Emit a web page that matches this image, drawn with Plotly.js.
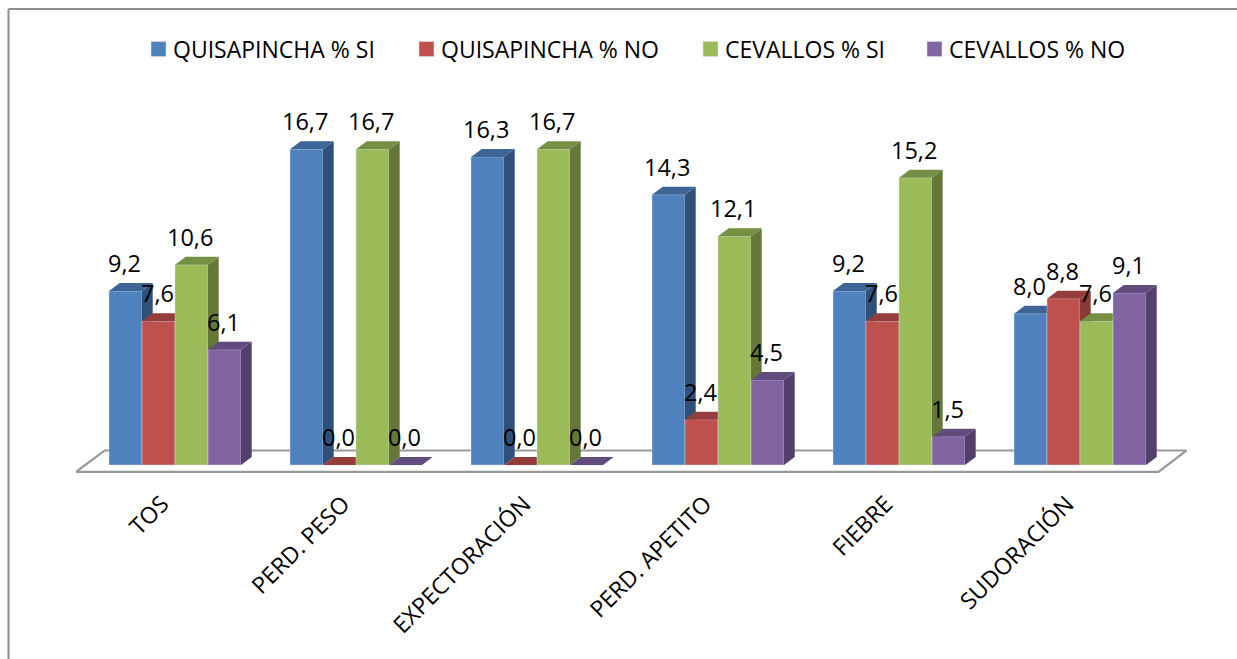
<!DOCTYPE html>
<html>
<head>
<meta charset="utf-8">
<script src="https://cdn.plot.ly/plotly-3.0.1.min.js"></script>
<style>html,body{margin:0;padding:0;background:#fff;overflow:hidden}</style>
</head>
<body>
<div id="chart" style="width:1237px;height:659px"></div>
<script>
const categories = ['TOS','PERD. PESO','EXPECTORACIÓN','PERD. APETITO','FIEBRE','SUDORACIÓN'];
const quisapinchaSi = [9.2,16.7,16.3,14.3,9.2,8.0];
const quisapinchaNo = [7.6,0.0,0.0,2.4,7.6,8.8];
const cevallosSi = [10.6,16.7,16.7,12.1,15.2,7.6];
const cevallosNo = [6.1,0.0,0.0,4.5,1.5,9.1];
const seriesNames = ['QUISAPINCHA % SI','QUISAPINCHA % NO','CEVALLOS % SI','CEVALLOS % NO'];
const seriesValues = [quisapinchaSi,quisapinchaNo,cevallosSi,cevallosNo];
const frontColors = ['#4F81BD','#C0504D','#9BBB59','#8064A2'];
const sideColors = ['#2F5078','#8A3836','#66773A','#533F6C'];
const topColors = ['#3D6595','#953D3B','#758F44','#624C7D'];

const W = 1237, H = 659;
const plot = {l:76, r:1187, t:90, b:480};
const zeroX = 175, pxPerCat = 181, zeroY = 465, pxPerVal = 18.9;
const xRange = [(plot.l-zeroX)/pxPerCat, (plot.r-zeroX)/pxPerCat];
const yRange = [(zeroY-plot.b)/pxPerVal, (zeroY-plot.t)/pxPerVal];
const barW = 33/pxPerCat, depthX = 10.7/pxPerCat, depthY = 8/pxPerVal;
const indexes = categories.map((_,i)=>i);

const traces = [];
// floor of the 3D scene
const fx = v => (v-zeroX)/pxPerCat, fy = v => (zeroY-v)/pxPerVal;
traces.push({type:'scatter',mode:'lines',xaxis:'x',yaxis:'y',showlegend:false,hoverinfo:'skip',cliponaxis:false,
  x:[fx(76),fx(104.5),fx(1186.5),fx(1158.5),fx(76)],
  y:[fy(471.8),fy(450.5),fy(450.5),fy(471.8),fy(471.8)],
  line:{color:'#999999',width:2.2},fill:'toself',fillcolor:'#ffffff'});

seriesValues.forEach((vals,s)=>{
  const ax = 'x'+(s+2), ay = 'y'+(s+2);
  const off = -2*barW + s*barW;
  traces.push({type:'bar',name:seriesNames[s],x:indexes,y:vals,width:barW,offset:off,xaxis:ax,yaxis:ay,
    legend:s===0?'legend':'legend'+(s+1),
    marker:{color:frontColors[s],line:{color:'rgba(215,228,240,0.55)',width:0.8}},
    hovertemplate:'%{y}<extra>'+seriesNames[s]+'</extra>'});
  const sx=[],sy=[],tx=[],ty=[];
  vals.forEach((v,i)=>{
    const xl=i+off, xr=xl+barW;
    sx.push(xr,xr+depthX,xr+depthX,xr,null); sy.push(0,depthY,v+depthY,v,null);
    tx.push(xl,xl+depthX,xr+depthX,xr,null); ty.push(v,v+depthY,v+depthY,v,null);
  });
  traces.push({type:'scatter',mode:'lines',xaxis:ax,yaxis:ay,x:sx,y:sy,fill:'toself',fillcolor:sideColors[s],
    line:{width:0,color:sideColors[s]},showlegend:false,hoverinfo:'skip'});
  traces.push({type:'scatter',mode:'lines',xaxis:ax,yaxis:ay,x:tx,y:ty,fill:'toself',fillcolor:topColors[s],
    line:{width:0,color:topColors[s]},showlegend:false,hoverinfo:'skip'});
});

const annotations = [];
seriesValues.forEach((vals,s)=>vals.forEach((v,i)=>{
  annotations.push({x:i-2*barW+(s+0.5)*barW,y:v,xref:'x',yref:'y',xshift:-1.5,yshift:28,showarrow:false,
    text:v.toFixed(1).replace('.',','),xanchor:'center',yanchor:'middle',
    font:{family:'Open Sans, sans-serif',size:23.5,color:'#000'}});
}));

const legendText = [173,441,725,949].map(v=>v-40);
const legendOf = i => ({xref:'container',yref:'container',x:legendText[i]/W,y:1-49/H,xanchor:'left',yanchor:'middle',
  orientation:'h',bgcolor:'rgba(0,0,0,0)',borderwidth:0,font:{family:'Open Sans, sans-serif',size:23,color:'#000'}});

const layout = {
  width:W,height:H,paper_bgcolor:'#fff',plot_bgcolor:'rgba(0,0,0,0)',showlegend:true,barmode:'overlay',
  margin:{l:plot.l,r:W-plot.r,t:plot.t,b:H-plot.b,pad:0,autoexpand:false},
  xaxis:{range:xRange,tickmode:'array',tickvals:indexes,ticktext:categories,tickangle:-45,ticks:'',showline:false,
    showgrid:false,zeroline:false,fixedrange:true,ticklabelstandoff:5,ticklabelshift:-13,
    tickfont:{family:'Open Sans, sans-serif',size:23,color:'#000'}},
  yaxis:{range:yRange,visible:false,fixedrange:true},
  annotations:annotations,
  legend:legendOf(0),legend2:legendOf(1),legend3:legendOf(2),legend4:legendOf(3),
  shapes:[
    {type:'line',layer:'above',xref:'paper',yref:'paper',x0:(8.5-plot.l)/(plot.r-plot.l),x1:(W-plot.l)/(plot.r-plot.l),
     y0:(plot.b-9)/(plot.b-plot.t),y1:(plot.b-9)/(plot.b-plot.t),line:{color:'#8c8c8c',width:2}},
    {type:'line',layer:'above',xref:'paper',yref:'paper',x0:(8.5-plot.l)/(plot.r-plot.l),x1:(8.5-plot.l)/(plot.r-plot.l),
     y0:(plot.b-9)/(plot.b-plot.t),y1:(plot.b-H)/(plot.b-plot.t),line:{color:'#8c8c8c',width:2}}
  ]
};
[2,3,4,5].forEach(n=>{
  layout['xaxis'+n]={range:xRange,overlaying:'x',anchor:'y'+n,visible:false,fixedrange:true};
  layout['yaxis'+n]={range:yRange,overlaying:'y',anchor:'x'+n,visible:false,fixedrange:true};
});

Plotly.newPlot('chart',traces,layout,{displayModeBar:false,responsive:false}).then(()=>{
  document.querySelectorAll('.legendpoints path').forEach(p=>{
    p.setAttribute('transform',(p.getAttribute('transform')||'')+' translate(5.5,0) scale(1.25)');
  });
});
</script>
</body>
</html>
